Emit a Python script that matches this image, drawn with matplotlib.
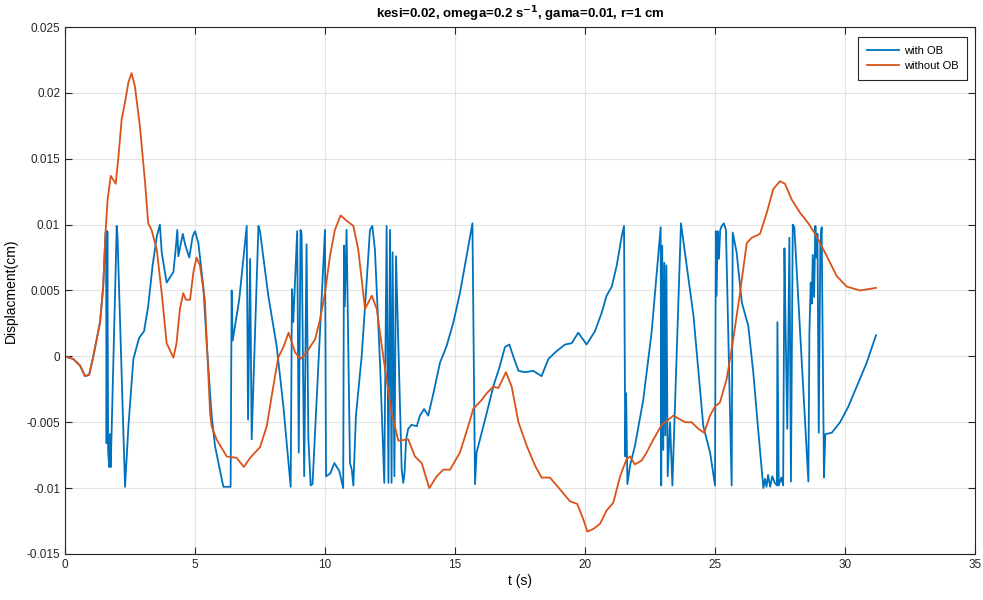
from matplotlib import pyplot as plt
import numpy as np

plt.rcParams['font.family'] = ['Liberation Sans Narrow', 'Liberation Sans', 'DejaVu Sans']
plt.rcParams['mathtext.fontset'] = 'custom'
plt.rcParams['mathtext.rm'] = 'Liberation Sans Narrow'
plt.rcParams['mathtext.bf'] = 'Liberation Sans Narrow:bold'

# displacement values are in units of 1e-3 cm
t_without = [0, 0.32, 0.58, 0.77, 0.93, 1.09, 1.24, 1.35, 1.47, 1.56,
             1.64, 1.76, 1.86, 1.95, 2.05, 2.18, 2.31, 2.44, 2.56, 2.69,
             2.88, 3.08, 3.2, 3.33, 3.53, 3.72, 3.91, 4.17, 4.29, 4.42,
             4.55, 4.65, 4.81, 4.94, 5.06, 5.19, 5.38, 5.58, 5.64, 5.83,
             6.22, 6.6, 6.88, 7.12, 7.5, 7.76, 8.01, 8.2, 8.4, 8.6,
             8.85, 9.06, 9.29, 9.62, 9.81, 10.0, 10.19, 10.38, 10.6, 10.83,
             11.09, 11.28, 11.54, 11.8, 11.99, 12.24, 12.56, 12.82, 13.2, 13.46,
             13.72, 14.01, 14.3, 14.55, 14.81, 15.19, 15.51, 15.7, 16.03, 16.22,
             16.47, 16.67, 16.96, 17.18, 17.44, 17.76, 18.08, 18.33, 18.65, 19.04,
             19.42, 19.7, 19.94, 20.09, 20.32, 20.58, 20.83, 21.09, 21.35, 21.6,
             21.73, 21.92, 22.18, 22.37, 22.63, 22.95, 23.4, 23.85, 24.1, 24.36,
             24.58, 24.81, 25.0, 25.19, 25.45, 25.7, 25.96, 26.22, 26.41, 26.73,
             26.99, 27.24, 27.5, 27.69, 27.95, 28.27, 28.59, 28.91, 29.3, 29.68,
             30.06, 30.58, 31.19]
y_without = [0, -0.2, -0.7, -1.5, -1.4, 0.0, 1.5, 2.6, 5.3, 9.4,
             11.9, 13.7, 13.4, 13.1, 15.0, 18.0, 19.3, 20.8, 21.5, 20.5,
             17.5, 13.2, 10.1, 9.6, 8.1, 4.8, 1.0, -0.1, 1.0, 3.6,
             4.8, 4.3, 4.3, 6.4, 7.5, 6.9, 4.3, -4.3, -5.3, -6.3,
             -7.6, -7.7, -8.4, -7.7, -6.9, -5.3, -2.3, -0.1, 0.7, 1.8,
             0.3, -0.2, 0.3, 1.3, 2.8, 4.8, 7.6, 9.6, 10.7, 10.3,
             9.9, 8.1, 3.6, 4.6, 3.6, 0.0, -4.3, -6.4, -6.3, -7.6,
             -8.1, -10.0, -9.1, -8.6, -8.6, -7.3, -5.3, -4.0, -3.3, -2.8,
             -2.3, -2.4, -1.2, -2.3, -5.0, -6.8, -8.3, -9.2, -9.2, -10.1,
             -11.0, -11.2, -12.4, -13.3, -13.1, -12.7, -11.7, -11.1, -9.1, -7.8,
             -7.6, -8.2, -7.9, -7.3, -6.3, -5.2, -4.5, -5.0, -5.0, -5.5,
             -5.8, -4.5, -3.8, -3.5, -1.7, 1.3, 4.8, 8.6, 9.0, 9.3,
             10.9, 12.7, 13.3, 13.1, 11.9, 10.9, 10.1, 9.1, 7.6, 6.1,
             5.3, 5.0, 5.2]

t_with = [0, 0.32, 0.58, 0.77, 0.93, 1.09, 1.24, 1.35, 1.47, 1.56,
          1.58, 1.60, 1.63, 1.66, 1.70, 1.73, 1.76, 1.99, 2.02, 2.31,
          2.44, 2.63, 2.85, 3.04, 3.20, 3.37, 3.53, 3.65, 3.72, 3.91,
          4.17, 4.27, 4.32, 4.36, 4.53, 4.62, 4.78, 4.91, 5.00, 5.13,
          5.32, 5.45, 5.64, 5.77, 6.09, 6.37, 6.41, 6.45, 6.70, 6.99,
          7.04, 7.12, 7.18, 7.44, 7.50, 7.82, 8.14, 8.40, 8.68, 8.73,
          8.78, 8.93, 8.99, 9.06, 9.10, 9.20, 9.29, 9.36, 9.45, 9.52,
          10.00, 10.04, 10.20, 10.36, 10.55, 10.70, 10.73, 10.76, 10.83, 10.96,
          11.03, 11.09, 11.19, 11.41, 11.60, 11.73, 11.82, 11.92, 12.12, 12.28,
          12.37, 12.44, 12.50, 12.56, 12.60, 12.67, 12.73, 12.95, 13.01, 13.06,
          13.12, 13.20, 13.33, 13.53, 13.65, 13.81, 13.97, 14.17, 14.42, 14.68,
          14.94, 15.19, 15.38, 15.58, 15.67, 15.77, 15.83, 16.09, 16.22, 16.47,
          16.73, 16.92, 17.09, 17.24, 17.44, 17.69, 18.01, 18.33, 18.59, 18.91,
          19.23, 19.49, 19.74, 20.06, 20.38, 20.64, 20.83, 21.03, 21.22, 21.41,
          21.50, 21.55, 21.58, 21.63, 21.73, 21.92, 22.24, 22.56, 22.91, 22.93,
          22.97, 23.01, 23.05, 23.09, 23.13, 23.18, 23.27, 23.36, 23.69, 24.17,
          24.55, 24.81, 25.00, 25.03, 25.06, 25.10, 25.15, 25.20, 25.26, 25.34,
          25.42, 25.64, 25.68, 25.83, 26.03, 26.28, 26.47, 26.67, 26.86, 26.92,
          26.98, 27.04, 27.12, 27.20, 27.30, 27.38, 27.40, 27.45, 27.55, 27.62,
          27.67, 27.71, 27.78, 27.86, 27.92, 27.99, 28.05, 28.59, 28.63, 28.68,
          28.72, 28.76, 28.81, 28.86, 28.90, 28.94, 28.99, 29.05, 29.10, 29.19,
          29.24, 29.49, 29.81, 30.13, 30.45, 30.83, 31.19]
y_with = [0, -0.2, -0.7, -1.5, -1.4, 0.0, 1.5, 2.6, 5.3, 9.4,
          9.5, -6.6, 9.5, -7.2, -8.4, -5.9, -8.4, 9.9, 9.1, -9.9,
          -5.3, -0.2, 1.4, 1.9, 3.8, 6.9, 9.1, 10.0, 7.9, 5.6,
          6.4, 8.4, 9.6, 7.6, 9.3, 8.5, 7.5, 9.1, 9.5, 8.6,
          5.3, 1.0, -4.5, -6.8, -9.9, -9.9, 5.0, 1.2, 4.3, 9.9,
          -4.8, 7.4, -6.3, 9.9, 9.5, 4.6, 0.8, -3.8, -9.9, 5.1,
          2.6, 9.5, -7.3, 9.6, 9.3, -9.1, 8.5, -6.2, -9.8, -9.7,
          9.6, -9.1, -8.9, -8.1, -8.7, -10.0, 8.4, 3.8, 9.6, -8.1,
          -8.6, -9.8, -4.5, 0.0, 5.6, 9.6, 9.9, 8.1, -0.7, -9.6,
          9.9, -9.6, 9.6, -9.6, 7.9, -9.1, 7.6, -8.6, -9.6, -8.8,
          -6.3, -5.5, -5.2, -5.3, -4.5, -4.0, -4.5, -2.8, -0.5, 0.8,
          2.6, 4.8, 6.9, 9.1, 10.1, -9.7, -7.3, -5.3, -4.3, -2.3,
          -0.7, 0.7, 0.9, 0.0, -1.1, -1.2, -1.1, -1.5, -0.2, 0.4,
          0.9, 1.0, 1.8, 0.9, 1.9, 3.3, 4.6, 5.3, 6.9, 9.1,
          9.9, -7.6, -2.8, -9.7, -8.3, -6.8, -3.3, 1.8, 9.8, -9.8,
          8.4, -7.1, 7.1, -6.0, 6.9, -9.1, -5.0, -9.8, 10.1, 3.1,
          -5.3, -7.3, -9.8, 9.5, 4.6, 9.5, 7.4, 9.6, 9.9, 10.1,
          9.6, -9.8, 9.4, 7.9, 4.1, 2.3, -1.2, -5.8, -10.0, -9.3,
          -9.9, -9.0, -9.9, -9.1, -9.6, -9.8, 2.6, -9.8, -9.2, -9.8,
          8.2, 2.6, -5.5, 9.0, -9.5, 10.0, 9.8, -9.5, 1.8, 5.6,
          4.0, 7.7, 4.5, 9.9, 7.5, 9.3, -5.8, 8.5, 9.8, -9.2,
          -5.9, -5.8, -5.0, -3.8, -2.3, -0.5, 1.6]

x_ticks = [0, 5, 10, 15, 20, 25, 30, 35]
y_ticks = [-0.015, -0.01, -0.005, 0, 0.005, 0.01, 0.015, 0.02, 0.025]
y_tick_labels = ['-0.015', '-0.01', '-0.005', '0', '0.005', '0.01', '0.015', '0.02', '0.025']

fig = plt.figure(figsize=(9.83, 6.0), dpi=100)
ax = fig.add_axes([0.0661, 0.0767, 0.9258, 0.8783])

ax.plot(t_with, np.array(y_with) * 1e-3, color='#0072BD', lw=1.3, label='with OB')
ax.plot(t_without, np.array(y_without) * 1e-3, color='#D95319', lw=1.3, label='without OB')

ax.set_xlim(0, 35)
ax.set_ylim(-0.015, 0.025)
ax.set_xticks(x_ticks)
ax.set_yticks(y_ticks)
ax.set_yticklabels(y_tick_labels)
ax.tick_params(direction='in', top=True, right=True, length=5, labelsize=8.5,
               colors='#262626', width=0.8)
ax.grid(True, color='#e3e3e3', lw=0.8)
ax.set_axisbelow(True)
for s in ax.spines.values():
    s.set_color('#262626')
    s.set_linewidth(0.8)

ax.set_xlabel('t (s)', fontsize=10, labelpad=2)
ax.set_ylabel('Displacment(cm)', fontsize=10, labelpad=6)
ax.set_title(r'kesi=0.02, omega=0.2 s$^{\mathbf{-1}}$, gama=0.01, r=1 cm',
             fontsize=9.5, fontweight='bold', pad=6)

leg = ax.legend(loc='upper right', bbox_to_anchor=(0.9975, 0.992), fontsize=8,
                fancybox=False, framealpha=1, edgecolor='#262626',
                handlelength=2.9, handletextpad=0.4, borderpad=0.8, labelspacing=0.45)
leg.get_frame().set_linewidth(0.8)

plt.savefig('out.png', dpi=100)
